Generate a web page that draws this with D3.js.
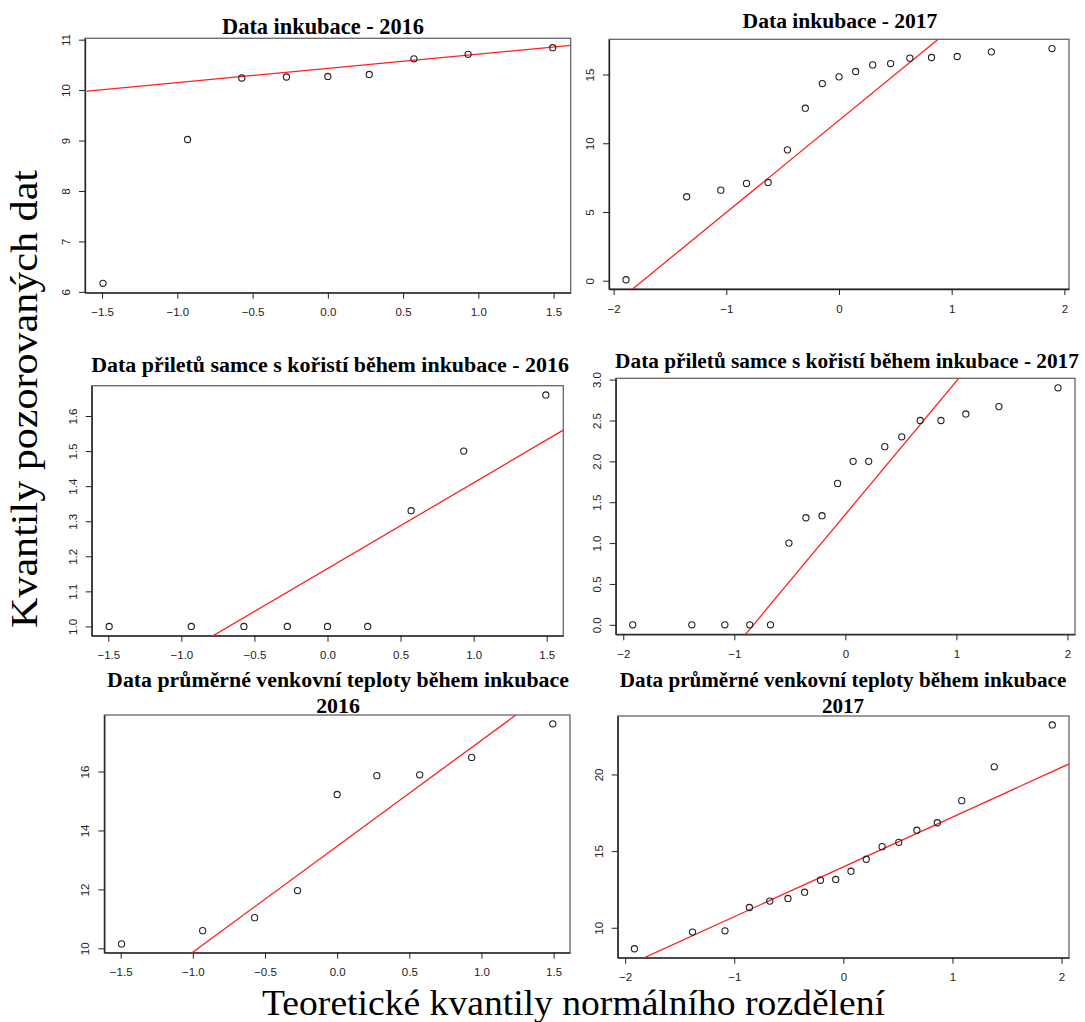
<!DOCTYPE html>
<html>
<head>
<meta charset="utf-8">
<script src="https://cdn.jsdelivr.net/npm/d3@7"></script>
<style>
  html, body { margin: 0; padding: 0; background: #fff; }
  svg { display: block; }
</style>
</head>
<body>
<svg id="chart" width="1085" height="1022"></svg>
<script>
// ---------------- DATA ----------------
const titles = [
  ["Data inkubace - 2016"],
  ["Data inkubace - 2017"],
  ["Data přiletů samce s kořistí během inkubace - 2016"],
  ["Data přiletů samce s kořistí během inkubace - 2017"],
  ["Data průměrné venkovní teploty během inkubace", "2016"],
  ["Data průměrné venkovní teploty během inkubace", "2017"]
];
const yAxisTitle = "Kvantily pozorovaných dat";
const xAxisTitle = "Teoretické kvantily normálního rozdělení";

// theoretical quantiles (x)
const theo9 = [-1.494, -0.932, -0.572, -0.275, 0, 0.275, 0.572, 0.932, 1.494];
const theo17 = [-1.890, -1.352, -1.049, -0.821, -0.629, -0.458, -0.299, -0.148, 0,
                 0.148, 0.299, 0.458, 0.629, 0.821, 1.049, 1.352, 1.890];
const theo18 = [-1.915, -1.383, -1.085, -0.861, -0.674, -0.508, -0.355, -0.210, -0.070,
                 0.070, 0.210, 0.355, 0.508, 0.674, 0.861, 1.085, 1.383, 1.915];

// observed quantiles (y)
const obsInk2016 = [6.17, 9.02, 10.24, 10.26, 10.27, 10.31, 10.62, 10.71, 10.84];
const obsInk2017 = [0.07, 6.11, 6.59, 7.08, 7.15, 9.52, 12.55, 14.34, 14.83, 15.22,
                    15.70, 15.80, 16.19, 16.24, 16.31, 16.65, 16.89];
const obsPril2016 = [1.0, 1.0, 1.0, 1.0, 1.0, 1.0, 1.33, 1.50, 1.66];
const obsPril2017 = [0, 0, 0, 0, 0, 1.0, 1.31, 1.335, 1.73, 2.0, 2.0, 2.18, 2.30,
                     2.50, 2.50, 2.58, 2.67, 2.90];
const obsTep2016 = [10.15, 10.60, 11.04, 11.96, 15.22, 15.86, 15.89, 16.48, 17.62];
const obsTep2017 = [8.63, 9.72, 9.80, 11.32, 11.74, 11.91, 12.32, 13.10, 13.15, 13.69,
                    14.47, 15.29, 15.57, 16.36, 16.85, 18.29, 20.50, 23.23];

// qq-line (intercept, slope)
const lineIntercepts = [10.43, 11.67, 1.165, 1.35, 13.465, 13.97];
const lineSlopes     = [0.282, 6.70, 0.2446, 1.631, 3.596, 3.247];

// ticks
const xTicks15 = [-1.5, -1.0, -0.5, 0.0, 0.5, 1.0, 1.5];
const xTicks2  = [-2, -1, 0, 1, 2];
const yTicksInk2016 = [6, 7, 8, 9, 10, 11];
const yTicksInk2017 = [0, 5, 10, 15];
const yTicksPril2016 = [1.0, 1.1, 1.2, 1.3, 1.4, 1.5, 1.6];
const yTicksPril2017 = [0.0, 0.5, 1.0, 1.5, 2.0, 2.5, 3.0];
const yTicksTep2016 = [10, 12, 14, 16];
const yTicksTep2017 = [10, 15, 20];

// ---------------- LAYOUT ----------------
const panels = [
  { x: theo9,  y: obsInk2016,  xt: xTicks15, yt: yTicksInk2016,  xf: ".1f", yf: "d",
    box: [85, 570.7, 38.3, 292.7], tx: 323, ty: [34], tw: 202 },
  { x: theo17, y: obsInk2017,  xt: xTicks2,  yt: yTicksInk2017,  xf: "d",   yf: "d",
    box: [609, 1069, 39.3, 289],   tx: 840, ty: [28], tw: 195 },
  { x: theo9,  y: obsPril2016, xt: xTicks15, yt: yTicksPril2016, xf: ".1f", yf: ".1f",
    box: [91.7, 563.3, 385.7, 635.7], tx: 330, ty: [372], tw: 478 },
  { x: theo18, y: obsPril2017, xt: xTicks2,  yt: yTicksPril2017, xf: "d",   yf: ".1f",
    box: [615.7, 1075, 378.3, 634.3], tx: 847, ty: [368], tw: 464 },
  { x: theo9,  y: obsTep2016,  xt: xTicks15, yt: yTicksTep2016,  xf: ".1f", yf: "d",
    box: [104.3, 570, 715, 952.7], tx: 338, ty: [687, 713], tw: 462 },
  { x: theo18, y: obsTep2017,  xt: xTicks2,  yt: yTicksTep2017,  xf: "d",   yf: "d",
    box: [617.7, 1069, 716, 957.7], tx: 843, ty: [687, 713], tw: 447 }
];

const svg = d3.select("#chart");
const defs = svg.append("defs");
const tickFont = "'Liberation Sans', Arial, sans-serif";
const serif = "'Liberation Serif', 'Times New Roman', serif";

function ext(arr) {
  const [a, b] = d3.extent(arr);
  const pad = (b - a) * 0.04;
  return [a - pad, b + pad];
}

panels.forEach((p, i) => {
  const [L, R, T, B] = p.box;
  const xs = d3.scaleLinear().domain(ext(p.x)).range([L, R]);
  const ys = d3.scaleLinear().domain(ext(p.y)).range([B, T]);
  const g = svg.append("g");

  // box
  g.append("rect").attr("x", L).attr("y", T).attr("width", R - L).attr("height", B - T)
    .attr("fill", "none").attr("stroke", "#666").attr("stroke-width", 1.3);

  // x axis
  const xAxis = d3.axisBottom(xs).tickValues(p.xt).tickSize(6).tickSizeOuter(0)
    .tickFormat(d3.format(p.xf));
  const xg = g.append("g").attr("transform", `translate(0,${B})`).call(xAxis);
  xg.select(".domain").attr("stroke", "#222").attr("stroke-width", 1.3);
  xg.selectAll(".tick line").attr("stroke", "#222");
  xg.selectAll(".tick text").attr("y", 15.5).attr("dy", "0.71em")
    .attr("font-family", tickFont).attr("font-size", 11.5).attr("fill", "#222");

  // y axis
  const yAxis = d3.axisLeft(ys).tickValues(p.yt).tickSize(6).tickSizeOuter(0)
    .tickFormat(d3.format(p.yf));
  const yg = g.append("g").attr("transform", `translate(${L},0)`).call(yAxis);
  yg.select(".domain").attr("stroke", "#222").attr("stroke-width", 1.3);
  yg.selectAll(".tick line").attr("stroke", "#222");
  yg.selectAll(".tick text")
    .attr("x", null).attr("dy", null)
    .attr("text-anchor", "middle")
    .attr("transform", "translate(-15,0) rotate(-90)")
    .attr("font-family", tickFont).attr("font-size", 11.5).attr("fill", "#222");

  // clip
  const cid = "clip" + i;
  defs.append("clipPath").attr("id", cid).append("rect")
    .attr("x", L).attr("y", T).attr("width", R - L).attr("height", B - T);

  // qq line
  const [d0, d1] = xs.domain();
  g.append("line").attr("clip-path", `url(#${cid})`)
    .attr("x1", xs(d0)).attr("y1", ys(lineIntercepts[i] + lineSlopes[i] * d0))
    .attr("x2", xs(d1)).attr("y2", ys(lineIntercepts[i] + lineSlopes[i] * d1))
    .attr("stroke", "#ff2020").attr("stroke-width", 1.3);

  // points
  g.selectAll("circle.pt").data(p.x.map((v, k) => [v, p.y[k]])).join("circle")
    .attr("class", "pt")
    .attr("cx", d => xs(d[0])).attr("cy", d => ys(d[1])).attr("r", 3.1)
    .attr("fill", "none").attr("stroke", "#222").attr("stroke-width", 1.1);

  // title: font size fitted so that the first line has the reference width
  const tEls = titles[i].map((t, k) => g.append("text").attr("x", p.tx).attr("y", p.ty[k])
      .attr("text-anchor", "middle").attr("font-family", serif)
      .attr("font-weight", "bold").attr("font-size", 22).attr("fill", "#000").text(t));
  const w0 = tEls[0].node().getComputedTextLength();
  const fs = w0 > 0 ? 22 * p.tw / w0 : 22;
  tEls.forEach(el => el.attr("font-size", fs));
});

// global axis titles
svg.append("text").attr("transform", "translate(37,399) rotate(-90)")
  .attr("text-anchor", "middle").attr("font-family", serif).attr("font-size", 37)
  .attr("textLength", 458).attr("lengthAdjust", "spacingAndGlyphs")
  .attr("fill", "#000").text(yAxisTitle);

svg.append("text").attr("x", 573.5).attr("y", 1015)
  .attr("text-anchor", "middle").attr("font-family", serif).attr("font-size", 36)
  .attr("textLength", 623).attr("lengthAdjust", "spacingAndGlyphs")
  .attr("fill", "#000").text(xAxisTitle);
</script>
</body>
</html>
